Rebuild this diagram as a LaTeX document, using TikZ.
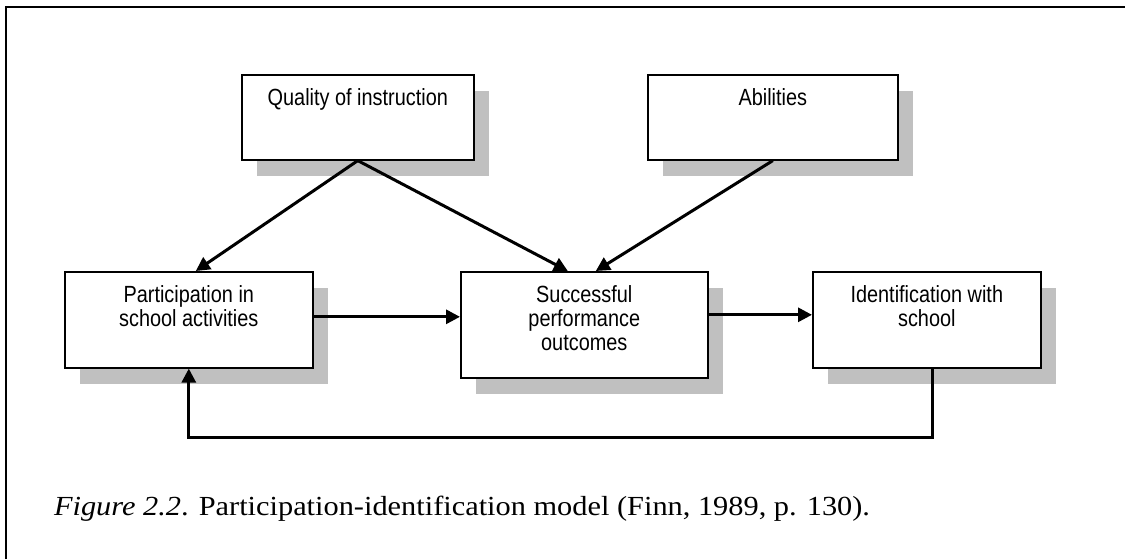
\documentclass[tikz,border=0pt]{standalone}
\usepackage{fontspec}
\usetikzlibrary{arrows.meta,shadows}
\newfontfamily\boxfont[FakeStretch=0.85]{Liberation Sans}
\newfontfamily\capfont[FakeStretch=1.1]{Liberation Serif}
\definecolor{shadowgray}{RGB}{192,192,192}
\tikzset{
  box/.style={draw, line width=0.8pt, fill=white, inner sep=0pt, align=center,
    anchor=north west, font=\boxfont\fontsize{11.7pt}{12pt}\selectfont,
    drop shadow={shadow xshift=7.5pt, shadow yshift=-8pt, fill=shadowgray, opacity=1}},
  arr/.style={-{Triangle[length=7pt,width=7pt]}, line width=1.5pt}
}
\begin{document}
\begin{tikzpicture}[x=0.5pt,y=-0.5pt]
  \useasboundingbox (0,0) rectangle (1125,559);
  \draw[line width=1pt] (6,559) -- (6,7) -- (1125,7);

  \node[box, minimum width=116pt, text height=15.3pt, text depth=27.2pt] (qual) at (241,74) {Quality of instruction};
  \node[box, minimum width=125pt, text height=15.3pt, text depth=27.2pt] (abil) at (647,74) {Abilities};
  \node[box, minimum width=124pt, text height=27.3pt, text depth=20.7pt] (part) at (64,271) {Participation in\\school activities};
  \node[box, minimum width=123.5pt, text height=39.3pt, text depth=13.7pt] (succ) at (460,271) {Successful\\performance\\outcomes};
  \node[box, minimum width=114pt, text height=27.3pt, text depth=20.7pt] (iden) at (812,271) {Identification with\\school};
  \coordinate (back) at (0,437);

  \draw[arr] (qual.south) -- ([xshift=3.5pt]part.north);
  \draw[arr] (qual.south) -- ([xshift=-8.25pt]succ.north);
  \draw[arr] (abil.south) -- ([xshift=5.75pt]succ.north);
  \draw[arr] ([yshift=1.5pt]part.east) -- ([yshift=1.5pt]part.east -| succ.west);
  \draw[arr] ([yshift=2.5pt]iden.west -| succ.east) -- ([yshift=2.5pt]iden.west);
  \draw[arr] ([xshift=3pt]iden.south) -- ([xshift=3pt]iden.south |- back) -- (part.south |- back) -- (part.south);

  \node[anchor=base west, font=\capfont\fontsize{13.8pt}{16pt}\selectfont] (caption) at (47,515)
    {\textit{Figure 2.2}. Participation-identification model (Finn, 1989, p. 130).};
\end{tikzpicture}
\end{document}
